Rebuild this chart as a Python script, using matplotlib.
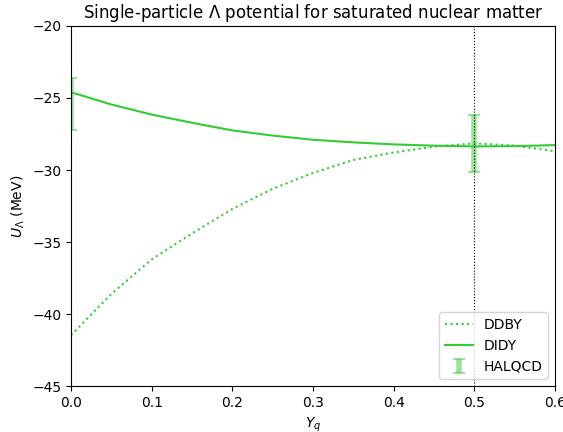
import numpy as np
import matplotlib
matplotlib.use("Agg")
import matplotlib.pyplot as plt

# values
yq = [0.0, 0.05, 0.1, 0.15, 0.2, 0.25, 0.3, 0.35, 0.4, 0.45, 0.5, 0.55, 0.6]
u_ddby = [-41.46, -38.6, -36.2, -34.4, -32.7, -31.3, -30.2, -29.3, -28.78, -28.38, -28.15, -28.3, -28.7]
u_didy = [-24.6, -25.45, -26.15, -26.72, -27.25, -27.61, -27.9, -28.08, -28.22, -28.31, -28.36, -28.34, -28.27]

hal_x = [0.0, 0.5]
hal_y = [-25.4, -28.15]
hal_err = [1.8, 2.0]

green = "#33cc33"

fig = plt.figure(figsize=(5.63, 4.32), dpi=100)
ax = fig.add_subplot(111)
fig.subplots_adjust(left=0.126, right=0.986, top=0.94, bottom=0.106)

ax.plot(yq, u_ddby, ":", color=green, lw=1.5, label="DDBY")
ax.plot(yq, u_didy, "-", color=green, lw=1.5, label="DIDY")
ax.errorbar(hal_x, hal_y, yerr=hal_err, fmt="none", ecolor=green, alpha=0.5,
            elinewidth=4, capsize=4, capthick=1.5, label="HALQCD")
ax.axvline(0.5, color="k", ls=":", lw=0.8)

ax.set_xlim(0, 0.6)
ax.set_ylim(-45, -20)
ax.set_xlabel(r"$Y_q$")
ax.set_ylabel(r"$U_\Lambda$ (MeV)")
ax.set_title("Single-particle $\\Lambda$ potential for saturated nuclear matter")
ax.legend(loc="lower right")

fig.savefig("out.png", dpi=100)
